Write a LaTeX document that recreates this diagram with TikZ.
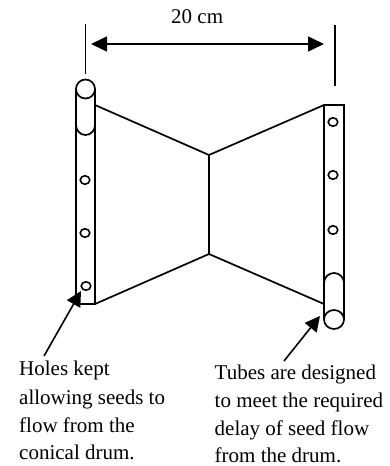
\documentclass[tikz,border=0pt]{standalone}
\usepackage{fontspec}
\setmainfont{Liberation Serif}
\usetikzlibrary{arrows.meta,shapes.geometric}
\tikzset{
  ln/.style={draw=black,line width=1.7pt},
  hole/.style={ellipse,draw=black,line width=1.6pt,fill=white,minimum width=9.5pt,minimum height=8.5pt,inner sep=0pt},
  lab/.style={anchor=base west,font=\fontsize{21}{21}\selectfont,inner sep=0pt},
  bigtip/.style={-{Triangle[length=15pt,width=15pt]},line width=1.6pt},
}
\begin{document}
\begin{tikzpicture}[x=1pt,y=-1pt]
\useasboundingbox (0,0) rectangle (390,466);
\coordinate (LT) at (95,105); \coordinate (LB) at (95,304);
\coordinate (RT) at (324,105); \coordinate (RB) at (324,304);
\coordinate (CT) at (209,155); \coordinate (CB) at (209,254);
\draw[ln] (76,89) -- (76,304) -- (95,304) -- (95,89);
\draw[ln] (76,125) arc[start angle=180,end angle=0,x radius=9.5,y radius=10];
\draw[ln] (85.5,89) ellipse[x radius=9.5,y radius=9.5];
\draw[ln] (324,319) -- (324,105) -- (344,105) -- (344,319);
\draw[ln] (324,283) arc[start angle=180,end angle=360,x radius=10,y radius=10];
\draw[ln] (334,319.5) ellipse[x radius=10,y radius=9.5];
\draw[ln] (LT) -- (CT) -- (RT);
\draw[ln] (LB) -- (CB) -- (RB);
\draw[ln] (CT) -- (CB);
\node[hole] (h1) at (85,180) {};
\node[hole] (h2) at (85,233) {};
\node[hole] (h3) at (86,286) {};
\node[hole] (h4) at (333,122) {};
\node[hole] (h5) at (333,175) {};
\node[hole] (h6) at (333,230) {};
\coordinate (dl1) at (85.5,24); \coordinate (dl2) at (85.5,74);
\coordinate (dr1) at (335,25); \coordinate (dr2) at (335,86);
\draw[ln] (dl1) -- (dl2);
\draw[ln] (dr1) -- (dr2);
\coordinate (al) at (91,44); \coordinate (ar) at (324,44);
\draw[line width=1.6pt,{Triangle[length=16pt,width=15pt]}-{Triangle[length=16pt,width=15pt]}] (al) -- (ar);
\node[lab] (dim) at (171,23) {20 cm};
\coordinate (t1) at (44,356); \coordinate (t1h) at (81,291);
\draw[bigtip] (t1) -- (t1h);
\coordinate (t2) at (284,361); \coordinate (t2h) at (320,316);
\draw[bigtip] (t2) -- (t2h);
\node[lab] (a1) at (19,375) {Holes kept};
\node[lab] (a2) at (19,404) {allowing seeds to};
\node[lab] (a3) at (19,432) {flow from the};
\node[lab] (a4) at (19,459) {conical drum.};
\node[lab] (b1) at (214.5,379) {Tubes are designed};
\node[lab] (b2) at (214.5,407) {to meet the required};
\node[lab] (b3) at (214.5,435) {delay of seed flow};
\node[lab] (b4) at (214.5,462) {from the drum.};
\end{tikzpicture}
\end{document}
